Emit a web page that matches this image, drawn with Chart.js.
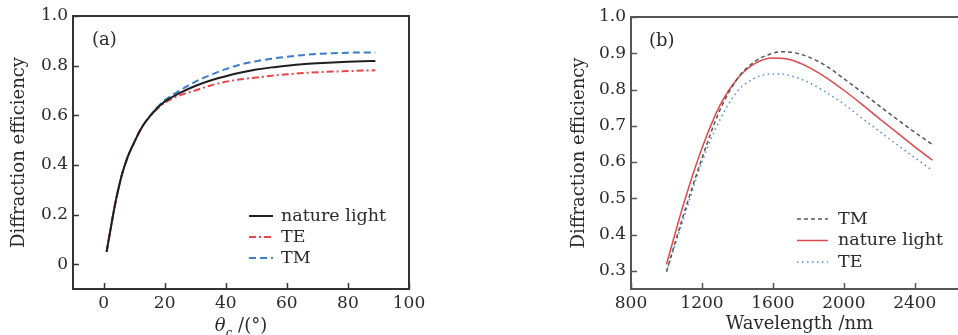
<!DOCTYPE html>
<html>
<head>
<meta charset="utf-8">
<script src="https://cdn.jsdelivr.net/npm/chart.js@4/dist/chart.umd.min.js"></script>
<style>
  html, body { margin:0; padding:0; background:#fff; width:958px; height:335px; overflow:hidden; position:relative; }
  #wa { position:absolute; left:0; top:0; width:450px; height:335px; }
  #wb { position:absolute; left:520px; top:0; width:480px; height:335px; }
</style>
</head>
<body>
<div id="wa"><canvas id="ca"></canvas></div>
<div id="wb"><canvas id="cb"></canvas></div>
<script>
// ---------- Panel (a) data ----------
const angleA = [1, 2, 3, 4, 5, 6, 8, 10, 12, 14, 16, 18, 20, 25, 30, 35, 40, 45, 50, 55, 60, 65, 70, 75, 80, 85, 89];
const natureA = [0.05, 0.12, 0.19, 0.255, 0.31, 0.36, 0.435, 0.49, 0.54, 0.578, 0.608, 0.634, 0.655, 0.69, 0.718, 0.74, 0.757, 0.772, 0.784, 0.793, 0.8, 0.806, 0.81, 0.813, 0.816, 0.818, 0.819];
const teA     = [0.05, 0.12, 0.19, 0.255, 0.31, 0.36, 0.435, 0.49, 0.54, 0.577, 0.606, 0.63, 0.65, 0.68, 0.70, 0.72, 0.735, 0.745, 0.752, 0.759, 0.765, 0.77, 0.773, 0.776, 0.778, 0.78, 0.781];
const tmA     = [0.05, 0.12, 0.19, 0.255, 0.31, 0.36, 0.435, 0.49, 0.54, 0.579, 0.61, 0.637, 0.66, 0.70, 0.735, 0.762, 0.786, 0.805, 0.818, 0.828, 0.836, 0.842, 0.847, 0.85, 0.852, 0.853, 0.853];
const xTicksA = [0, 20, 40, 60, 80, 100];
const yTicksA = [0, 0.2, 0.4, 0.6, 0.8, 1.0];

// ---------- Panel (b) data ----------
const waveB   = [1000, 1100, 1200, 1300, 1400, 1500, 1600, 1650, 1700, 1800, 1900, 2000, 2100, 2200, 2300, 2400, 2500];
const tmB     = [0.298, 0.46, 0.61, 0.742, 0.83, 0.878, 0.9, 0.904, 0.903, 0.89, 0.865, 0.83, 0.793, 0.755, 0.718, 0.682, 0.648];
const natureB = [0.318, 0.49, 0.638, 0.755, 0.83, 0.872, 0.887, 0.886, 0.882, 0.862, 0.833, 0.798, 0.76, 0.72, 0.681, 0.642, 0.605];
const teB     = [0.298, 0.45, 0.60, 0.715, 0.795, 0.832, 0.843, 0.843, 0.838, 0.82, 0.792, 0.76, 0.722, 0.685, 0.648, 0.612, 0.577];
const xTicksB = [800, 1200, 1600, 2000, 2400];
const yTicksB = [0.3, 0.4, 0.5, 0.6, 0.7, 0.8, 0.9, 1.0];

const FONT = "'DejaVu Serif', serif";
const TXT = '#2a2a2a';

function pts(xs, ys) { return xs.map((x, i) => ({ x: x, y: ys[i] })); }
function fmtY(v) { return Math.abs(v) < 1e-9 ? '0' : v.toFixed(1); }

// plugin: frame, inward ticks, panel label, legend, custom x-title
const decor = {
  id: 'decor',
  afterDraw(chart, args, o) {
    const ctx = chart.ctx;
    const ca = chart.chartArea;
    const xs = chart.scales.x, ys = chart.scales.y;
    ctx.save();
    // frame
    ctx.strokeStyle = o.frameColor;
    ctx.lineWidth = 2;
    ctx.setLineDash([]);
    ctx.strokeRect(ca.left, ca.top, ca.right - ca.left, ca.bottom - ca.top);
    // ticks inward
    ctx.lineWidth = 1.5;
    xs.ticks.forEach(t => {
      const px = Math.round(xs.getPixelForValue(t.value)) + 0.5;
      ctx.beginPath(); ctx.moveTo(px, ca.bottom); ctx.lineTo(px, ca.bottom - 6); ctx.stroke();
    });
    ys.ticks.forEach(t => {
      const py = Math.round(ys.getPixelForValue(t.value)) + 0.5;
      ctx.beginPath(); ctx.moveTo(ca.left, py); ctx.lineTo(ca.left + 6, py); ctx.stroke();
    });
    // panel label
    ctx.fillStyle = TXT;
    ctx.font = '18px ' + FONT;
    ctx.textBaseline = 'middle';
    ctx.textAlign = 'left';
    ctx.fillText(o.panel, ca.left + o.panelDx, ca.top + 24);
    // legend
    o.legendOrder.forEach((di, row) => {
      const ds = chart.data.datasets[di];
      const y = o.legY + row * o.legStep;
      ctx.strokeStyle = ds.borderColor;
      ctx.lineWidth = ds.borderWidth;
      ctx.setLineDash(ds.borderDash || []);
      ctx.beginPath(); ctx.moveTo(o.legX, y); ctx.lineTo(o.legX + o.legLen, y); ctx.stroke();
      ctx.setLineDash([]);
      ctx.fillStyle = TXT;
      ctx.font = '17.5px ' + FONT;
      ctx.textBaseline = 'middle';
      ctx.fillText(ds.label, o.legX + o.legLen + o.legGap, y);
    });
    // custom x title (theta with subscript)
    if (o.thetaTitle) {
      const cx = (ca.left + ca.right) / 2;
      const base = 331;
      ctx.fillStyle = TXT;
      ctx.textBaseline = 'alphabetic';
      ctx.font = 'italic 18px ' + FONT;
      const w1 = ctx.measureText('θ').width;
      ctx.font = 'italic 12px ' + FONT;
      const w2 = ctx.measureText('c').width;
      ctx.font = '18px ' + FONT;
      const w3 = ctx.measureText(' /(°)').width;
      let x = cx - (w1 + w2 + w3) / 2;
      ctx.font = 'italic 18px ' + FONT;
      ctx.fillText('θ', x, base); x += w1;
      ctx.font = 'italic 12px ' + FONT;
      ctx.fillText('c', x, base + 6); x += w2;
      ctx.font = '18px ' + FONT;
      ctx.fillText(' /(°)', x, base);
    }
    ctx.restore();
  }
};

function makeScale(min, max, tickList, fmt, axisSize, isY, title, titlePad) {
  return {
    type: 'linear',
    min: min, max: max,
    grid: { display: false, drawTicks: false },
    border: { display: false },
    afterBuildTicks: s => { s.ticks = tickList.map(v => ({ value: v })); },
    afterFit: s => { if (isY) s.width = axisSize; else s.height = axisSize; },
    ticks: {
      color: TXT,
      font: { family: FONT, size: 17 },
      padding: isY ? 5 : 4,
      callback: fmt,
      maxRotation: 0, autoSkip: false
    },
    title: title ? { display: true, text: title, color: TXT, font: { family: FONT, size: 18 }, padding: titlePad } : { display: false }
  };
}

// ---------- Chart (a) ----------
new Chart(document.getElementById('ca'), {
  type: 'line',
  data: {
    datasets: [
      { label: 'nature light', data: pts(angleA, natureA), borderColor: '#1e1e1e', borderWidth: 2, pointRadius: 0, cubicInterpolationMode: 'monotone', fill: false },
      { label: 'TE', data: pts(angleA, teA), borderColor: '#e8474c', borderWidth: 2, borderDash: [7, 3, 2, 3], pointRadius: 0, cubicInterpolationMode: 'monotone', fill: false },
      { label: 'TM', data: pts(angleA, tmA), borderColor: '#3a7dc9', borderWidth: 2, borderDash: [7, 4], pointRadius: 0, cubicInterpolationMode: 'monotone', fill: false }
    ]
  },
  options: {
    responsive: true, maintainAspectRatio: false, animation: false,
    layout: { padding: { left: 0, top: 16, right: 41, bottom: 0 } },
    plugins: {
      legend: { display: false }, tooltip: { enabled: false },
      decor: { frameColor: '#333', panel: '(a)', panelDx: 19, legendOrder: [0, 1, 2], legX: 249, legY: 216, legStep: 21, legLen: 24, legGap: 8, thetaTitle: true }
    },
    scales: {
      x: makeScale(-10, 100, xTicksA, v => String(v), 46, false, null),
      y: makeScale(-0.1, 1.0, yTicksA, fmtY, 73, true, 'Diffraction efficiency', { top: 9, bottom: 0 })
    }
  },
  plugins: [decor]
});

// ---------- Chart (b) ----------
new Chart(document.getElementById('cb'), {
  type: 'line',
  data: {
    datasets: [
      { label: 'TM', data: pts(waveB, tmB), borderColor: '#555555', borderWidth: 1.5, borderDash: [4, 3], pointRadius: 0, cubicInterpolationMode: 'monotone', fill: false },
      { label: 'nature light', data: pts(waveB, natureB), borderColor: '#e0474c', borderWidth: 1.5, pointRadius: 0, cubicInterpolationMode: 'monotone', fill: false },
      { label: 'TE', data: pts(waveB, teB), borderColor: '#4a8ed6', borderWidth: 1.5, borderDash: [1.5, 3.5], pointRadius: 0, cubicInterpolationMode: 'monotone', fill: false }
    ]
  },
  options: {
    responsive: true, maintainAspectRatio: false, animation: false,
    layout: { padding: { left: 0, top: 17, right: 32, bottom: 0 } },
    plugins: {
      legend: { display: false }, tooltip: { enabled: false },
      decor: { frameColor: '#555', panel: '(b)', panelDx: 18, legendOrder: [0, 1, 2], legX: 277, legY: 219, legStep: 21.5, legLen: 31, legGap: 10, thetaTitle: false }
    },
    scales: {
      x: makeScale(800, 2700, xTicksB, v => String(v), 46, false, 'Wavelength /nm', { top: 0, bottom: 0 }),
      y: makeScale(0.25, 1.0, yTicksB, fmtY, 111, true, 'Diffraction efficiency', { top: 49, bottom: 0 })
    }
  },
  plugins: [decor]
});
</script>
</body>
</html>
